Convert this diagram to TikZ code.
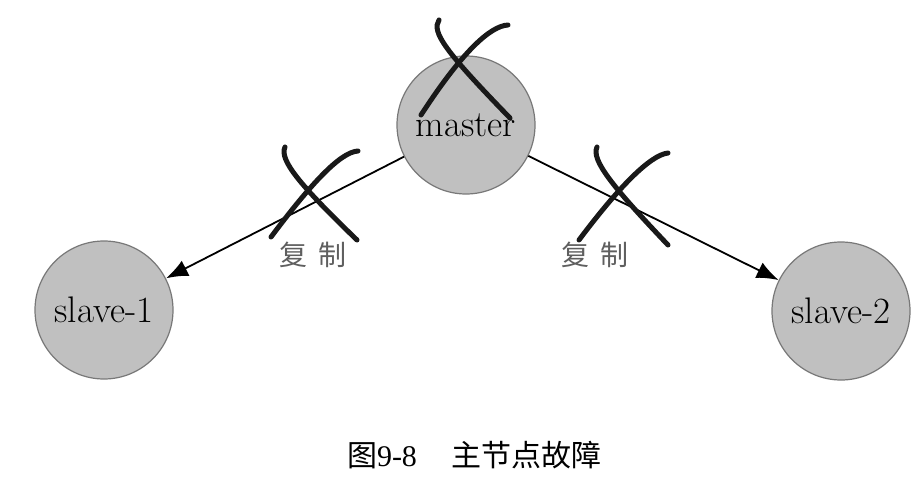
\documentclass[tikz,border=0pt]{standalone}
\usepackage{fontspec}
\newfontfamily\cjk{Noto Sans CJK SC}
\newfontfamily\capserif{Liberation Serif}
\usetikzlibrary{arrows.meta}
\definecolor{nodefill}{RGB}{192,192,192}
\definecolor{nodeline}{RGB}{120,120,120}
\definecolor{lblgray}{RGB}{95,95,95}
\begin{document}
\begin{tikzpicture}[x=1pt,y=-1pt,
  srv/.style={circle,fill=nodefill,draw=nodeline,line width=1.2pt,minimum size=138pt,inner sep=0pt,font=\fontsize{37}{40}\selectfont},
  repl/.style={-{Latex[length=22pt,width=17pt]},line width=1.8pt,black},
  crossstroke/.style={line width=5pt,line cap=round,black!90},
  lbl/.style={font=\cjk\fontsize{28}{30}\selectfont,text=lblgray,inner sep=0pt}]
\useasboundingbox (0,0) rectangle (918,484);
\fill[white] (0,0) rectangle (918,484);
\node[srv] (m) at (466,125) {\raisebox{-4pt}{master}};
\node[srv] (s1) at (104,310) {slave-1};
\node[srv] (s2) at (841,311) {slave-2};
\draw[repl] (m) -- (s1);
\draw[repl] (m) -- (s2);
% crosses
\draw[crossstroke] (439,20) .. controls (431,32) and (446,52) .. (510,118);
\draw[crossstroke] (508,25) .. controls (490,26) and (462,52) .. (421,115);
\draw[crossstroke] (285,147) .. controls (279,160) and (300,185) .. (357,240);
\draw[crossstroke] (358,151) .. controls (340,152) and (310,185) .. (271,237);
\draw[crossstroke] (597,147) .. controls (591,160) and (612,186) .. (668,245);
\draw[crossstroke] (668,153) .. controls (650,155) and (618,188) .. (579,240);
\node[lbl] (l1) at (313,255) {复\hspace{12pt}制};
\node[lbl] (l2) at (595,255) {复\hspace{12pt}制};
\node[font=\cjk\fontsize{30}{32}\selectfont,inner sep=0pt] (cap) at (474,455) {图{\capserif 9-8}\hspace{34pt}主节点故障};
\end{tikzpicture}
\end{document}
